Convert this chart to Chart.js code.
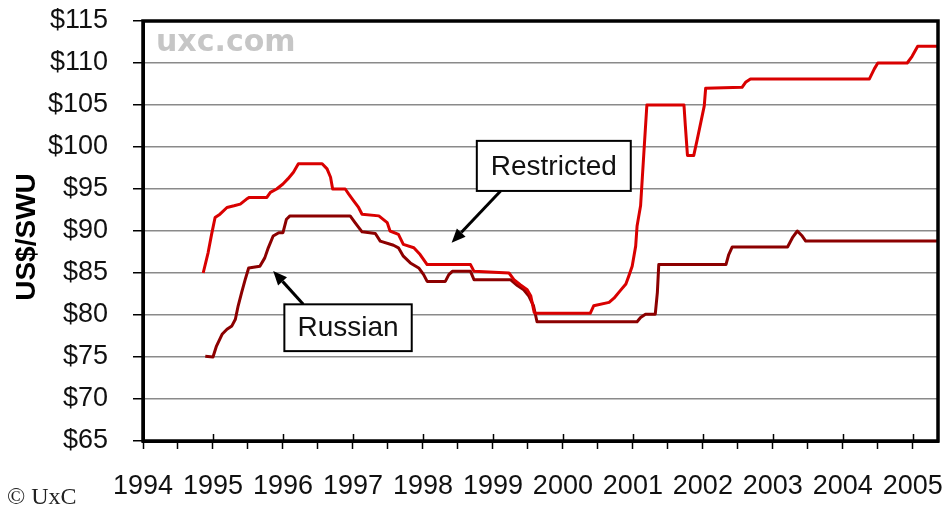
<!DOCTYPE html>
<html><head><meta charset="utf-8">
<script src="https://cdn.jsdelivr.net/npm/chart.js@4.4.0/dist/chart.umd.min.js"></script>
<style>html,body{margin:0;padding:0;background:#fff}canvas{display:block}</style>
</head><body>
<canvas id="c" width="946" height="508"></canvas>
<script>
// ---------------- data ----------------
const restrictedYears = [1994.86,1994.93,1994.98,1995.03,1995.10,1995.20,1995.30,1995.39,1995.48,1995.52,1995.77,1995.82,1995.91,1996.00,1996.07,1996.15,1996.22,1996.56,1996.63,1996.68,1996.71,1996.89,1996.94,1997.01,1997.08,1997.13,1997.37,1997.49,1997.53,1997.65,1997.72,1997.87,1997.96,1998.06,1998.68,1998.73,1999.23,1999.30,1999.39,1999.49,1999.54,1999.59,1999.62,2000.39,2000.44,2000.66,2000.73,2000.82,2000.90,2000.94,2000.99,2001.04,2001.06,2001.11,2001.16,2001.20,2001.73,2001.75,2001.78,2001.87,2001.92,2001.97,2002.02,2002.04,2002.56,2002.61,2002.68,2004.38,2004.45,2004.50,2004.92,2004.99,2005.07,2005.40];
const restrictedPrices = [85,87.4,89.6,91.6,92,92.8,93,93.2,93.8,94,94,94.6,95,95.6,96.2,97,98,98,97.4,96.4,95,95,94.4,93.6,92.8,92,91.8,91,90,89.6,88.4,88,87.2,86,86,85.2,85,84.2,83.6,83,82.3,80.3,80.2,80.2,81.1,81.5,82,82.9,83.7,84.6,85.8,88.2,90.6,93,99.7,105,105,102.5,99,99,100.9,102.9,104.9,107,107.1,107.7,108.1,108.1,109.3,110,110,110.8,112,112];
const russianYears = [1994.89,1995.00,1995.05,1995.13,1995.20,1995.27,1995.32,1995.36,1995.41,1995.46,1995.51,1995.67,1995.74,1995.79,1995.86,1995.94,1996.00,1996.05,1996.10,1996.96,1997.03,1997.13,1997.32,1997.39,1997.58,1997.65,1997.72,1997.82,1997.94,1998.01,1998.06,1998.32,1998.37,1998.42,1998.68,1998.73,1999.25,1999.35,1999.44,1999.51,1999.58,1999.63,2001.06,2001.11,2001.18,2001.32,2001.35,2001.37,2002.33,2002.37,2002.42,2003.21,2003.28,2003.35,2003.42,2003.47,2005.40];
const russianPrices = [75.1,75,76.3,77.7,78.3,78.7,79.5,81.1,82.7,84.2,85.6,85.8,86.8,88,89.4,89.8,89.8,91.4,91.8,91.8,91,89.9,89.7,88.8,88.3,88,87,86.2,85.6,84.8,84,84,84.8,85.2,85.2,84.2,84.2,83.5,83,82.3,81.1,79.2,79.2,79.7,80.1,80.1,82.7,86,86,87.2,88.1,88.1,89.2,90,89.4,88.8,88.8];
const yearLabels = [1994,1995,1996,1997,1998,1999,2000,2001,2002,2003,2004,2005];
const priceTicks = [65,70,75,80,85,90,95,100,105,110,115];
const seriesNames = ['Restricted','Russian'];
const axisTitle = 'US$/SWU';
const watermarkText = 'uxc.com';
const copyrightText = '\u00A9 UxC';

// ---------------- presentation ----------------
const sans = "'Liberation Sans', Arial, sans-serif";
const callouts = [
  {text: seriesNames[0], box: [1998.77, 100.73, 2000.97, 94.77], from: [1999.11, 94.77], to: [1998.41, 88.6]},
  {text: seriesNames[1], box: [1996.02, 81.27, 1997.84, 75.7], from: [1996.29, 81.27], to: [1995.86, 85.24]}
];

function drawArrow(ctx, x1, y1, x2, y2) {
  const ang = Math.atan2(y2 - y1, x2 - x1);
  const head = 14, half = 6;
  const bx = x2 - head * Math.cos(ang), by = y2 - head * Math.sin(ang);
  ctx.beginPath();
  ctx.moveTo(x1, y1); ctx.lineTo(bx, by);
  ctx.lineWidth = 3; ctx.strokeStyle = '#000'; ctx.stroke();
  ctx.beginPath();
  ctx.moveTo(x2, y2);
  ctx.lineTo(bx + half * Math.sin(ang), by - half * Math.cos(ang));
  ctx.lineTo(bx - half * Math.sin(ang), by + half * Math.cos(ang));
  ctx.closePath(); ctx.fillStyle = '#000'; ctx.fill();
}

const decor = {
  id: 'decor',
  beforeDraw(chart) {
    const ctx = chart.ctx;
    ctx.save(); ctx.fillStyle = '#fff'; ctx.fillRect(0, 0, chart.width, chart.height); ctx.restore();
  },
  beforeDatasetsDraw(chart) {
    const {ctx, chartArea: a} = chart;
    ctx.save();
    ctx.font = "bold 30px 'DejaVu Sans', sans-serif";
    ctx.fillStyle = '#c6c6c6';
    ctx.textBaseline = 'middle'; ctx.textAlign = 'left';
    ctx.fillText(watermarkText, a.left + 13, a.top + 22);
    ctx.restore();
  },
  afterDatasetsDraw(chart) {
    const {ctx, chartArea: a, scales: {x, y}} = chart;
    ctx.save();
    ctx.lineWidth = 3.5; ctx.strokeStyle = '#000';
    ctx.strokeRect(a.left, a.top, a.right - a.left, a.bottom - a.top);
    ctx.lineWidth = 1.5;
    yearLabels.forEach(v => {
      const px = Math.round(x.getPixelForValue(v)) + 0.5;
      ctx.beginPath(); ctx.moveTo(px, a.bottom - 7); ctx.lineTo(px, a.bottom); ctx.stroke();
    });
    callouts.forEach(c => {
      const x1 = x.getPixelForValue(c.box[0]), y1 = y.getPixelForValue(c.box[1]);
      const x2 = x.getPixelForValue(c.box[2]), y2 = y.getPixelForValue(c.box[3]);
      drawArrow(ctx, x.getPixelForValue(c.from[0]), y.getPixelForValue(c.from[1]),
                     x.getPixelForValue(c.to[0]), y.getPixelForValue(c.to[1]));
      ctx.fillStyle = '#fff';
      ctx.fillRect(x1, y1, x2 - x1, y2 - y1);
      ctx.lineWidth = 2; ctx.strokeStyle = '#000';
      ctx.strokeRect(x1, y1, x2 - x1, y2 - y1);
      ctx.font = "28px " + sans;
      ctx.fillStyle = '#111'; ctx.textAlign = 'center'; ctx.textBaseline = 'middle';
      ctx.fillText(c.text, (x1 + x2) / 2, (y1 + y2) / 2 + 1);
    });
    ctx.restore();
  },
  afterDraw(chart) {
    const ctx = chart.ctx;
    const a = chart.chartArea;
    ctx.save();
    ctx.font = "24px 'Liberation Serif', serif";
    ctx.fillStyle = '#222'; ctx.textAlign = 'left'; ctx.textBaseline = 'middle';
    ctx.fillText(copyrightText, 7, 498);
    // rotated axis title
    ctx.translate(27, (a.top + a.bottom) / 2 + 6);
    ctx.rotate(-Math.PI / 2);
    ctx.font = "bold 28px " + sans;
    ctx.fillStyle = '#000'; ctx.textAlign = 'center'; ctx.textBaseline = 'middle';
    ctx.fillText(axisTitle, 0, 0);
    ctx.restore();
  }
};

const toPoints = (xs, ys) => xs.map((v, i) => ({x: v, y: ys[i]}));

new Chart(document.getElementById('c'), {
  type: 'line',
  data: {
    datasets: [
      {label: seriesNames[0], data: toPoints(restrictedYears, restrictedPrices), borderColor: '#d90000', borderWidth: 3, pointRadius: 0, tension: 0, borderJoinStyle: 'round'},
      {label: seriesNames[1], data: toPoints(russianYears, russianPrices), borderColor: '#8c0000', borderWidth: 3, pointRadius: 0, tension: 0, borderJoinStyle: 'round'}
    ]
  },
  options: {
    responsive: false, animation: false, devicePixelRatio: 1,
    layout: {padding: {top: 21, right: 8, left: 0, bottom: 0}},
    plugins: {legend: {display: false}, tooltip: {enabled: false}},
    scales: {
      x: {
        type: 'linear', min: 1994, max: 2005.36,
        afterFit: s => { s.height = 67; s.paddingLeft = 0; s.paddingRight = 0; },
        border: {display: true, color: '#000', width: 3},
        grid: {drawOnChartArea: false, drawTicks: true, tickLength: 8, tickColor: '#000', tickWidth: 1.5},
        ticks: {
          stepSize: 0.5, includeBounds: false, autoSkip: false, maxRotation: 0, minRotation: 0,
          padding: 21, color: '#111',
          font: {family: sans, size: 27},
          callback: v => yearLabels.includes(v) ? String(v) : ''
        }
      },
      y: {
        min: priceTicks[0], max: priceTicks[priceTicks.length - 1],
        afterFit: s => { s.width = 143; s.paddingTop = 0; s.paddingBottom = 0; },
        afterBuildTicks: s => { s.ticks = priceTicks.map(v => ({value: v})); },
        border: {display: true, color: '#000', width: 3},
        grid: {color: '#8a8a8a', lineWidth: 1.5, tickLength: 10, tickColor: '#000', tickWidth: 1.5},
        ticks: {padding: 25, color: '#111', font: {family: sans, size: 27}, callback: v => '$' + v},
        title: {display: false}
      }
    }
  },
  plugins: [decor]
});
</script>
</body></html>
